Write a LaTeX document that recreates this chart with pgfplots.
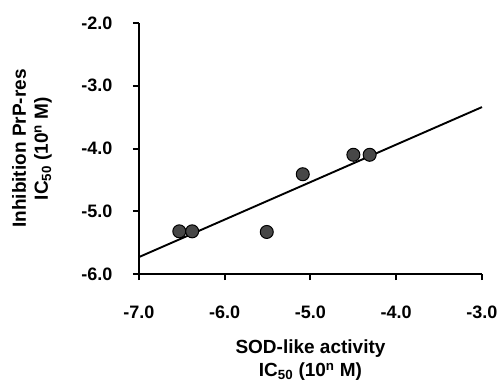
\documentclass[border=0pt]{standalone}
\usepackage{pgfplots}
\pgfplotsset{compat=1.18}
\usepackage{fontspec}
\setmainfont{Liberation Sans}
\begin{document}
\begin{tikzpicture}
\path[use as bounding box] (-139pt,-114pt) rectangle (359pt,274pt);
\begin{axis}[
  at={(0,0)}, anchor=south west,
  scale only axis, width=343pt, height=251pt,
  xmin=-7, xmax=-3, ymin=-6, ymax=-2,
  axis lines=left, axis line style={line width=2.4pt, -},
  xtick={-7,-6,-5,-4,-3}, xticklabels={-7.0,-6.0,-5.0,-4.0,-3.0},
  ytick={-6,-5,-4,-3,-2}, yticklabels={-6.0,-5.0,-4.0,-3.0,-2.0},
  tick align=outside, major tick length=6pt,
  tick style={line width=2pt, black},
  xticklabel style={font=\fontsize{18}{18}\selectfont\bfseries, anchor=north, yshift=-22pt},
  yticklabel style={font=\fontsize{18}{18}\selectfont\bfseries, anchor=east, xshift=-17pt},
  clip=false,
  xlabel={SOD-like activity\\IC\textsubscript{50} (10\textsuperscript{n} M)},
  ylabel={Inhibition PrP-res\\IC\textsubscript{50} (10\textsuperscript{n} M)},
  every axis x label/.style={at={(rel axis cs:0.5,0)}, anchor=center, yshift=-86pt,
    align=center, font=\fontsize{19}{23}\selectfont\bfseries},
  every axis y label/.style={at={(rel axis cs:0,0.5)}, anchor=center, xshift=-107pt, rotate=90,
    align=center, font=\fontsize{19}{22}\selectfont\bfseries},
]
\addplot[no marks, line width=1.9pt, black] coordinates {(-7,-5.73) (-3,-3.34)};
\addplot[only marks, mark=*, mark size=6.5pt, mark options={fill=black!72, draw=black, line width=1pt}]
  coordinates {(-6.53,-5.32) (-6.38,-5.32) (-5.51,-5.33) (-5.09,-4.41) (-4.50,-4.10) (-4.31,-4.10)};
\end{axis}
\end{tikzpicture}
\end{document}
